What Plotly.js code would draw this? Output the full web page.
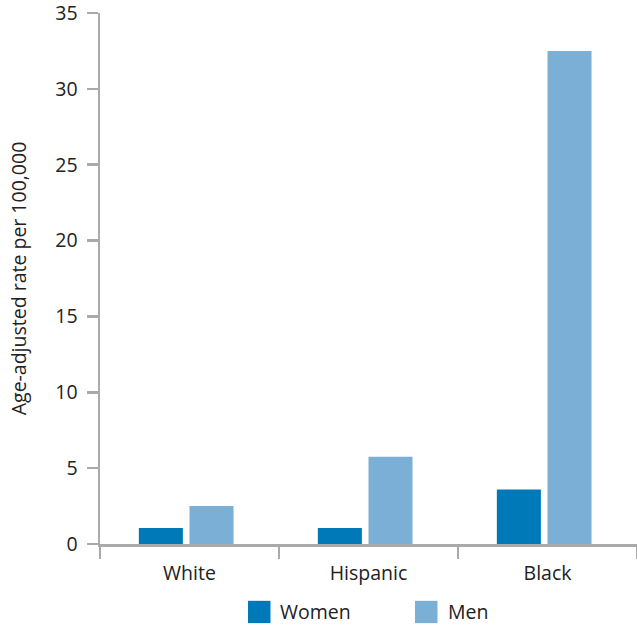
<!DOCTYPE html>
<html>
<head>
<meta charset="utf-8">
<script src="https://cdn.plot.ly/plotly-3.0.1.min.js"></script>
<style>html,body{margin:0;padding:0;background:#fff;}#chart{width:637px;height:627px;}</style>
</head>
<body>
<div id="chart"></div>
<script>
const categories = ["White", "Hispanic", "Black"];
const women = [1.05, 1.05, 3.6];
const men = [2.5, 5.75, 32.5];
const seriesNames = ["Women", "Men"];
const seriesColors = ["#0079b9", "#7bafd5"];
const yTicks = [0, 5, 10, 15, 20, 25, 30, 35];

const font = {family: "'Open Sans', Lato, sans-serif", size: 19.5, color: "#222"};

const barOffsets = [-0.283, 0.0];
const traces = [women, men].map((vals, i) => ({
  type: "bar",
  x: categories,
  y: vals,
  name: seriesNames[i],
  marker: {color: seriesColors[i]},
  width: 0.246,
  offset: barOffsets[i],
  showlegend: false,
  hoverinfo: "none"
}));

// Legend drawn as swatches + labels in paper coords
const legendX = [0.2756, 0.5866];
const shapes = [];
const annotations = [];
seriesNames.forEach((n, i) => {
  shapes.push({type: "rect", xref: "paper", yref: "paper",
    x0: legendX[i], x1: legendX[i] + 0.0419, y0: -0.107, y1: -0.149,
    fillcolor: seriesColors[i], line: {width: 0}});
  annotations.push({xref: "paper", yref: "paper", x: legendX[i] + 0.0568, y: -0.128,
    xanchor: "left", yanchor: "middle", text: n, showarrow: false, font: font});
});

const layout = {
  width: 637, height: 627,
  margin: {l: 100, r: 0, t: 13, b: 83},
  paper_bgcolor: "#fff", plot_bgcolor: "#fff",
  font: font,
  barmode: "group",
  xaxis: {
    type: "category",
    showline: true, linecolor: "#aaaaac", linewidth: 2.5,
    ticks: "outside", tickson: "boundaries", ticklen: 12, tickwidth: 2.5, tickcolor: "#aaaaac",
    showgrid: false, zeroline: false,
    ticklabelstandoff: 10,
    ticklabeloverflow: "allow",
    tickfont: font
  },
  yaxis: {
    range: [0, 35],
    tickvals: yTicks,
    showline: true, linecolor: "#aaaaac", linewidth: 2.5,
    ticks: "outside", ticklen: 11, tickwidth: 2.5, tickcolor: "#aaaaac",
    showgrid: false, zeroline: false,
    ticklabelstandoff: 5,
    ticklabeloverflow: "allow",
    tickfont: font,
    title: {text: "Age-adjusted rate per 100,000", font: font, standoff: 24}
  },
  shapes: shapes,
  annotations: annotations
};

Plotly.newPlot("chart", traces, layout, {displayModeBar: false, staticPlot: true});
</script>
</body>
</html>
